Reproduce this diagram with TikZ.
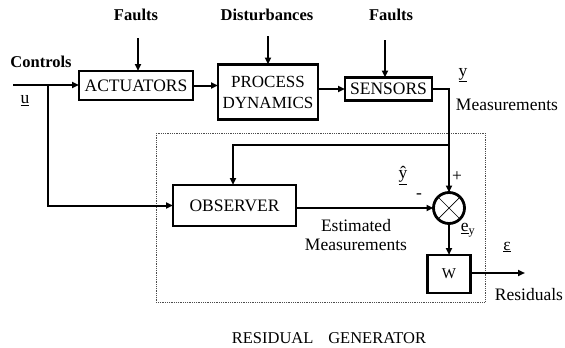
\documentclass[tikz,border=0pt]{standalone}
\usepackage{fontspec}
\setmainfont{Liberation Serif}
\usetikzlibrary{arrows.meta}
\begin{document}
\begin{tikzpicture}[x=1pt,y=-1pt,
  every node/.style={inner sep=0pt,outer sep=0pt},
  blk/.style={draw,line width=2.3pt,font=\fontsize{17.5}{19}\selectfont,align=center},
  lbl/.style={font=\fontsize{17.5}{19}\selectfont},
  blbl/.style={font=\fontsize{16.5}{19}\selectfont\bfseries},
  conn/.style={line width=2pt},
  arr/.style={conn,-{Triangle[length=7pt,width=6pt]}},
  sumc/.style={draw,circle,line width=2.8pt,minimum size=31pt}
]
\useasboundingbox (0,0) rectangle (565,348);
% dotted frame
\draw[densely dotted,line width=0.8pt,gray!60!black] (156,133) rectangle (485,302);
% blocks
\node[blk,minimum width=114pt,minimum height=29pt] (act) at (136,85.5) {ACTUATORS};
\node[blk,minimum width=100pt,minimum height=55pt,font=\fontsize{17}{21}\selectfont] (proc) at (268,92) {PROCESS\\DYNAMICS};
\node[blk,minimum width=87pt,minimum height=23pt] (sens) at (388.5,89) {SENSORS};
\node[blk,minimum width=123pt,minimum height=41pt] (obs) at (234.5,205.5) {OBSERVER};
\node[blk,minimum width=43pt,minimum height=38pt,font=\fontsize{15}{17}\selectfont] (w) at (449,274) {W};
\node[sumc] (s) at (449,208) {};
\draw[line width=0.7pt] (s.45) -- (s.225) (s.135) -- (s.315);
% top labels
\node[blbl] (f1) at (136,15) {Faults};
\node[blbl] (dist) at (267,15) {Disturbances};
\node[blbl] (f2) at (391,15) {Faults};
\node[blbl] (ctrl) at (41,62) {Controls};
\coordinate (f1s) at (138,38);
\coordinate (ds) at (268,36);
\coordinate (f2s) at (385,40);
\draw[arr] (f1s) -- (f1s |- act.north);
\draw[arr] (ds) -- (ds |- proc.north);
\draw[arr] (f2s) -- (f2s |- sens.north);
% input
\coordinate (in) at (13,85);
\coordinate (br) at (48,85);
\draw[arr] (in) -- (act.west |- in);
\draw[arr] (br) |- (obs.west);
\node[lbl] (u) at (25,101) {\underline{u}};
% forward chain
\draw[arr] (act.east) -- (proc.west |- act.east);
\draw[arr] (proc.east |- sens.west) -- (sens.west);
\coordinate (sc) at (449,89);
\coordinate (fb) at (449,145);
\coordinate (fbl) at (233,145);
\draw[conn] (sens.east) -- (sc) -- (fb);
\draw[arr] (fb) -- (s.north);
\draw[arr] (fb) -- (fbl) -- (fbl |- obs.north);
\draw[arr] (obs.east |- s.west) -- (s.west);
\draw[arr] (s.south) -- (w.north);
\coordinate (out) at (525,273);
\draw[arr] (w.east |- out) -- (out);
% labels
\node[lbl] (y) at (463,75) {\underline{y}};
\node[lbl] (meas) at (507,105) {Measurements};
\node[lbl] (plus) at (457,177) {+};
\node[lbl] (yh) at (403,182) {\underline{\smash{ŷ}\vphantom{\rule{0pt}{0pt}}\rule[-4.5pt]{0pt}{0pt}}};
\node[lbl] (minus) at (419,196) {-};
\node[lbl,align=center] (est) at (356,235) {Estimated\\Measurements};
\node[lbl] (ey) at (468,230) {\underline{e}$_{\mathrm{y}}$};
\node[lbl] (eps) at (507,247) {\underline{ε}};
\node[lbl] (res) at (529,295) {Residuals};
\node[font=\fontsize{16.5}{18}\selectfont] (rg) at (329,338) {RESIDUAL\hspace{0.9em}GENERATOR};
\end{tikzpicture}
\end{document}
